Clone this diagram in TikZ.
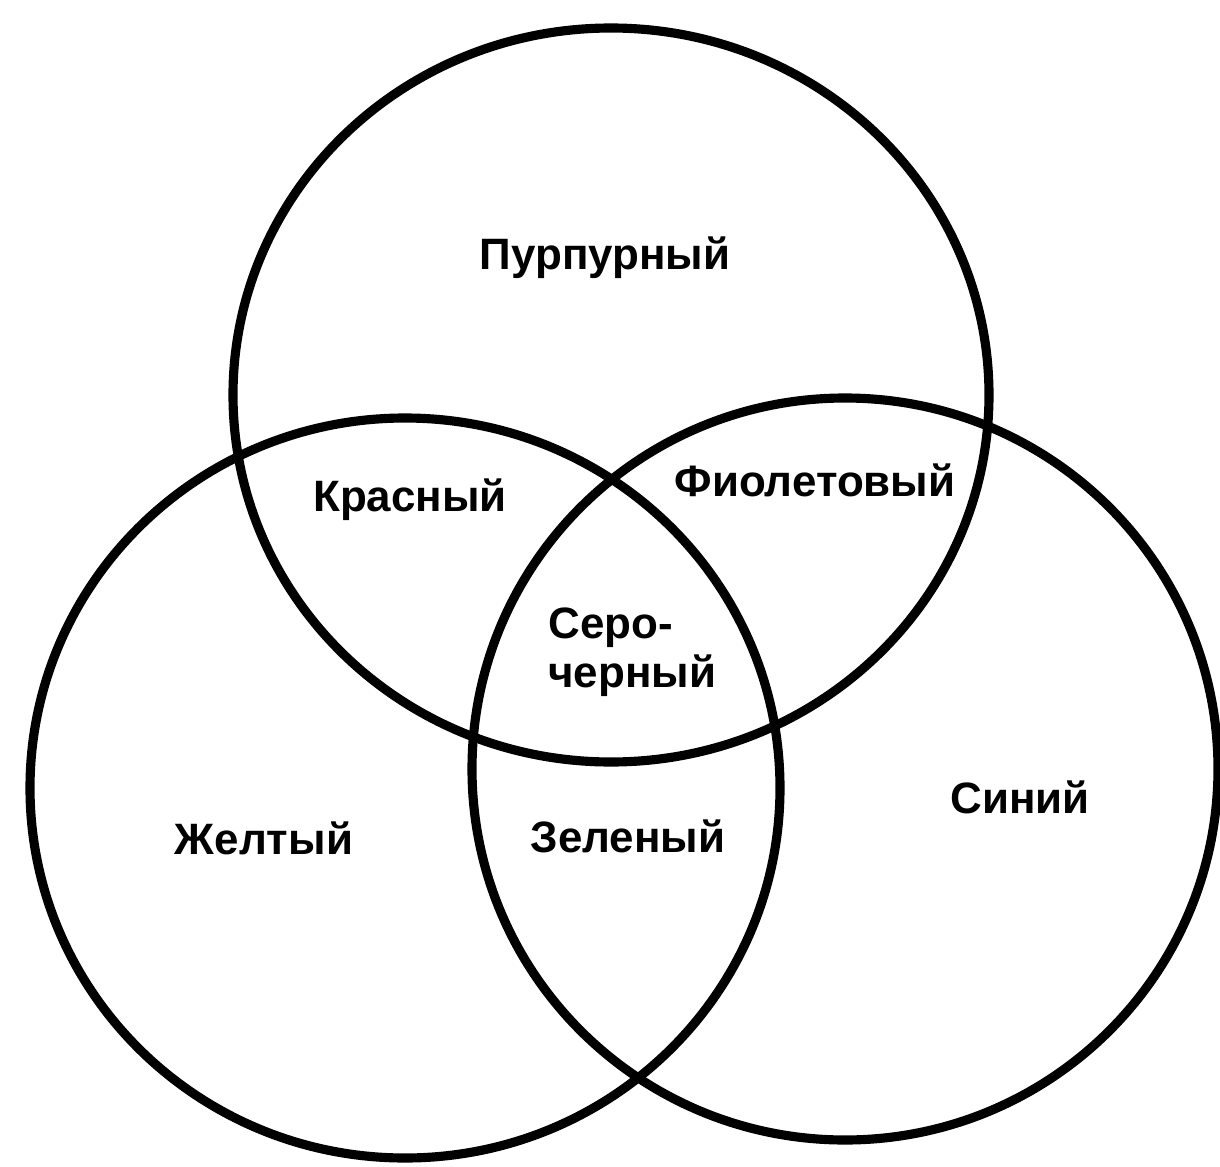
\documentclass[tikz,border=0pt]{standalone}
\usepackage{fontspec}
\setmainfont{Liberation Sans}
\begin{document}
\begin{tikzpicture}[x=0.02cm,y=-0.02cm,
  ring/.style={draw=black,line width=5.2pt},
  lbl/.style={font=\fontsize{25}{28}\selectfont\bfseries,inner sep=0pt}]
\useasboundingbox[fill=white] (0,0) rectangle (1220,1166);
\coordinate (ctop) at (611,395);
\coordinate (cleft) at (405,788);
\coordinate (cright) at (845,769);
\draw[ring] (ctop) ellipse[x radius=378,y radius=367];
\draw[ring] (cleft) ellipse[x radius=375,y radius=370];
\draw[ring] (cright) ellipse[x radius=373,y radius=371];
\node[lbl] (purple) at (605,258) {Пурпурный};
\node[lbl] (red) at (410,500) {Красный};
\node[lbl] (violet) at (815,480) {Фиолетовый};
\node[lbl,align=left,anchor=north west] (grey) at (548,607) {Серо-\\черный};
\node[lbl] (yellow) at (264,838) {Желтый};
\node[lbl] (green) at (628,836) {Зеленый};
\node[lbl] (blue) at (1020,797) {Синий};
\end{tikzpicture}
\end{document}
